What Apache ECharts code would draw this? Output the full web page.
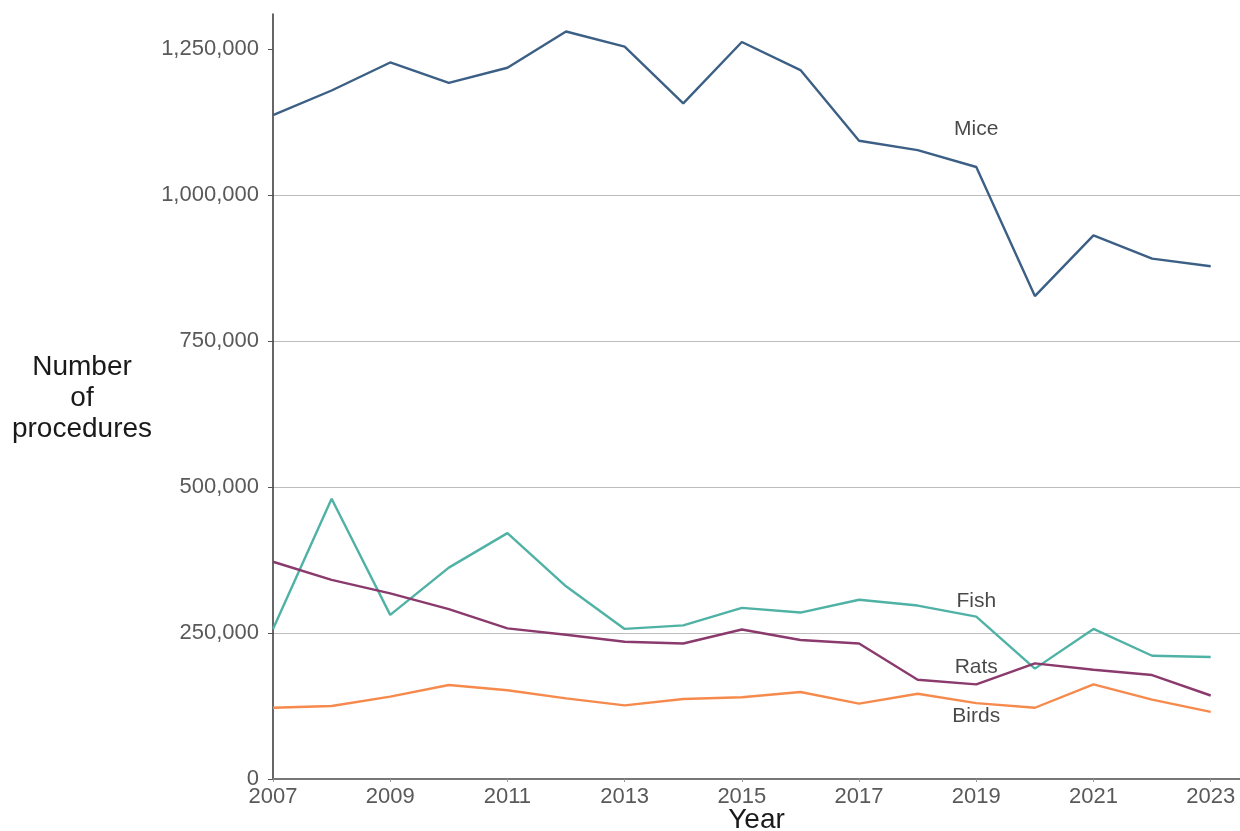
<!DOCTYPE html>
<html>
<head>
<meta charset="utf-8">
<script src="https://cdn.jsdelivr.net/npm/echarts@6/dist/echarts.min.js"></script>
<style>
html,body{margin:0;padding:0;background:#fff;}
#chart{width:1240px;height:831px;}
</style>
</head>
<body>
<div id="chart"></div>
<script>
const years = [2007,2008,2009,2010,2011,2012,2013,2014,2015,2016,2017,2018,2019,2020,2021,2022,2023];
const mice  = [1137000,1179000,1227000,1192000,1218000,1280000,1254000,1157000,1262000,1214000,1093000,1077000,1048000,827000,931000,891000,878000];
const fish  = [257000,480000,281000,362000,421000,330000,257000,263000,293000,285000,307000,297000,278000,189000,257000,211000,209000];
const rats  = [372000,341000,318000,291000,258000,247000,235000,232000,256000,238000,232000,170000,162000,198000,187000,178000,143000];
const birds = [122000,125000,141000,161000,152000,138000,126000,137000,140000,149000,129000,146000,130000,122000,162000,136000,115000];
const xTicks = [2007,2009,2011,2013,2015,2017,2019,2021,2023];
const yTicks = [0,250000,500000,750000,1000000,1250000];
const seriesNames = ['Mice','Fish','Rats','Birds'];
const labelYear = [2019,2019,2019,2019];
const labelValue = [1113000,305000,192000,107000];

const colors = {Mice:'#3c5f85', Fish:'#4fb2a5', Rats:'#8a3a6c', Birds:'#f68a4c'};
const valuesByName = {Mice:mice, Fish:fish, Rats:rats, Birds:birds};

const font = 'Liberation Sans, Arial, sans-serif';
const chart = echarts.init(document.getElementById('chart'), null, {renderer:'canvas'});

const lineSeries = seriesNames.map(n => ({
  name:n, type:'line', data: years.map((y,i)=>[y, valuesByName[n][i]]),
  showSymbol:false, symbol:'none', lineStyle:{color:colors[n], width:2.4}, itemStyle:{color:colors[n]},
  animation:false, silent:true
}));

const labelSeries = {
  type:'scatter', symbolSize:0, animation:false, silent:true,
  data: seriesNames.map((n,i)=>({value:[labelYear[i], labelValue[i]], name:n})),
  label:{show:true, position:'inside', formatter: p=>p.name, color:'#1a1a1a', fontSize:21, fontFamily:font}
};

chart.setOption({
  backgroundColor:'#fff',
  grid:{left:273, right:0, top:14, bottom:52, containLabel:false, outerBoundsMode:'none'},
  graphic:[{
    type:'text', x:82, y:398,
    style:{text:'Number\nof\nprocedures', x:0, y:0, align:'center', verticalAlign:'middle',
      fill:'#1a1a1a', fontSize:28, fontFamily:font, lineHeight:31}
  }],
  xAxis:{
    type:'value', min:2007, max:2023.5,
    name:'Year', nameLocation:'middle', nameGap:27, nameMoveOverlap:false,
    nameTextStyle:{color:'#1a1a1a', fontSize:28, fontFamily:font, verticalAlign:'top'},
    axisLine:{show:true, lineStyle:{color:'#777', width:2}},
    axisTick:{show:true, length:3, customValues:xTicks, lineStyle:{color:'#999'}},
    axisLabel:{customValues:xTicks, color:'#595959', fontSize:22, fontFamily:font, margin:7, formatter:v=>String(v)},
    splitLine:{show:false}
  },
  yAxis:{
    type:'value', min:0, max:1310000, interval:250000,
    axisLine:{show:true, lineStyle:{color:'#333', width:1.5}},
    axisTick:{show:true, length:5, customValues:yTicks, lineStyle:{color:'#555'}},
    axisLabel:{customValues:yTicks, color:'#595959', fontSize:22, fontFamily:font, margin:14,
      formatter:v=>Number(v).toLocaleString('en-US')},
    splitLine:{show:true, showMaxLine:false, showMinLine:false, lineStyle:{color:'#bdbdbd', width:1.2}}
  },
  series:[...lineSeries, labelSeries]
});
</script>
</body>
</html>
